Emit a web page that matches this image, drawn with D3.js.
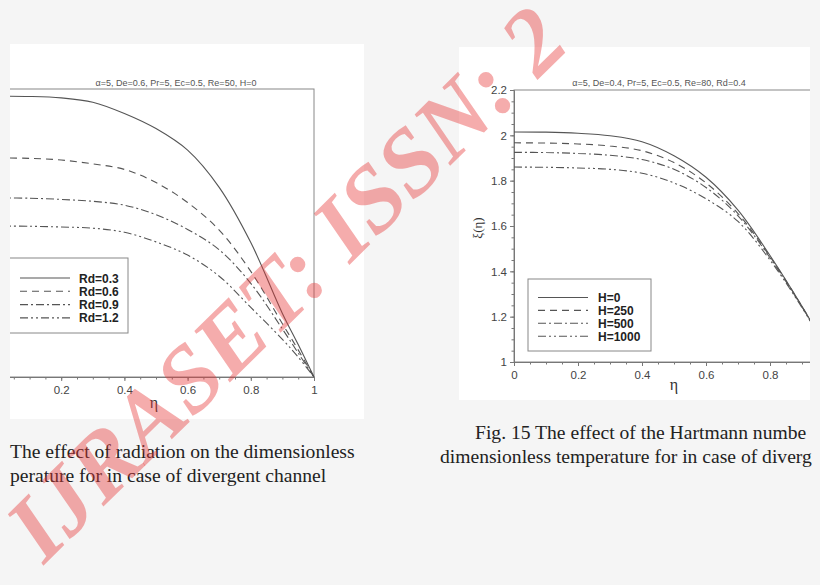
<!DOCTYPE html>
<html>
<head>
<meta charset="utf-8">
<script src="https://cdn.jsdelivr.net/npm/d3@7"></script>
<style>
  html, body { margin: 0; padding: 0; background: #f5f5f5; }
  svg { display: block; }
</style>
</head>
<body>
<svg id="fig" width="820" height="585"></svg>
<script>
const eta = [0, 0.1, 0.2, 0.3, 0.4, 0.5, 0.6, 0.7, 0.8, 0.9, 0.95, 1];

// left figure: effect of Rd (its y axis is outside the crop)
const rdLabels = ["Rd=0.3", "Rd=0.6", "Rd=0.9", "Rd=1.2"];
const rd03 = [2.170, 2.169, 2.163, 2.145, 2.098, 2.035, 1.945, 1.790, 1.560, 1.265, 1.135, 1.0];
const rd06 = [1.913, 1.911, 1.904, 1.888, 1.865, 1.810, 1.727, 1.612, 1.440, 1.222, 1.113, 1.0];
const rd09 = [1.746, 1.745, 1.740, 1.732, 1.716, 1.676, 1.615, 1.530, 1.390, 1.200, 1.100, 1.0];
const rd12 = [1.629, 1.628, 1.625, 1.620, 1.603, 1.563, 1.508, 1.420, 1.290, 1.157, 1.083, 1.0];

// right figure: effect of Hartmann number
const hLabels = ["H=0", "H=250", "H=500", "H=1000"];
const h0    = [2.015, 2.014, 2.009, 1.998, 1.972, 1.910, 1.815, 1.670, 1.470, 1.246, 1.125, 1.0];
const h250  = [1.967, 1.966, 1.962, 1.953, 1.932, 1.880, 1.790, 1.655, 1.465, 1.245, 1.124, 1.0];
const h500  = [1.925, 1.924, 1.920, 1.912, 1.893, 1.850, 1.770, 1.645, 1.460, 1.243, 1.123, 1.0];
const h1000 = [1.860, 1.859, 1.856, 1.850, 1.833, 1.790, 1.720, 1.620, 1.450, 1.240, 1.122, 1.0];

// tick labels that fall inside each crop
const xTicksL = [0.2, 0.4, 0.6, 0.8, 1];
const xTicksR = [0, 0.2, 0.4, 0.6, 0.8];
const yTicks = [1, 1.2, 1.4, 1.6, 1.8, 2, 2.2];

const dashes = [null, "7,5", "8,3,2,3", "8,3,2,3,2,3"];
const lineCol = "#555";

const svg = d3.select("#fig");
const defs = svg.append("defs");

// crops of the two columns
defs.append("clipPath").attr("id", "clipL")
  .append("rect").attr("x", 10).attr("y", 0).attr("width", 400).attr("height", 585);
defs.append("clipPath").attr("id", "clipR")
  .append("rect").attr("x", 0).attr("y", 0).attr("width", 810).attr("height", 585);

const fmt = d => Number.isInteger(d) ? d3.format("d")(d) : d3.format(".1f")(d);

function drawPanel(opt) {
  const root = svg.append("g");
  const g = root.append("g").attr("clip-path", `url(#${opt.clip})`);

  g.append("rect")
    .attr("x", opt.panel[0]).attr("y", opt.panel[1])
    .attr("width", opt.panel[2]).attr("height", opt.panel[3])
    .attr("fill", "#fff");

  const x = d3.scaleLinear().domain([0, 1]).range(opt.xr);
  const y = d3.scaleLinear().domain([1, 2.2]).range(opt.yr);

  // frame
  g.append("rect")
    .attr("x", x(0)).attr("y", y(2.2))
    .attr("width", x(1) - x(0)).attr("height", y(1) - y(2.2))
    .attr("fill", "none").attr("stroke", "#888").attr("stroke-width", 1);

  // x axis: minor + major ticks
  const minor = d3.range(0, 1.0001, 0.05);
  g.append("g")
    .attr("transform", `translate(0,${y(1)})`)
    .call(d3.axisBottom(x).tickValues(minor).tickSize(2.5).tickFormat(""))
    .call(a => a.select(".domain").remove())
    .selectAll("line").attr("stroke", "#777");
  const xa = g.append("g")
    .attr("transform", `translate(0,${y(1)})`)
    .call(d3.axisBottom(x).tickValues(opt.xTicks).tickSize(4).tickPadding(5).tickFormat(fmt));
  xa.select(".domain").attr("stroke", "#777");
  xa.selectAll("line").attr("stroke", "#777");
  xa.selectAll("text")
    .attr("font-family", "Arial, 'Liberation Sans', sans-serif")
    .attr("font-size", 11.5).attr("fill", "#444");

  if (opt.yAxis) {
    const yMinor = d3.range(1, 2.2001, 0.05);
    g.append("g")
      .attr("transform", `translate(${x(0)},0)`)
      .call(d3.axisLeft(y).tickValues(yMinor).tickSize(2.5).tickFormat(""))
      .call(a => a.select(".domain").remove())
      .selectAll("line").attr("stroke", "#777");
    const ya = g.append("g")
      .attr("transform", `translate(${x(0)},0)`)
      .call(d3.axisLeft(y).tickValues(yTicks).tickSize(4).tickPadding(3).tickFormat(fmt));
    ya.select(".domain").attr("stroke", "#777");
    ya.selectAll("line").attr("stroke", "#777");
    ya.selectAll("text")
      .attr("font-family", "Arial, 'Liberation Sans', sans-serif")
      .attr("font-size", 11.5).attr("fill", "#444");

    g.append("text")
      .attr("transform", `translate(${opt.yLabelPos[0]},${opt.yLabelPos[1]}) rotate(-90)`)
      .attr("text-anchor", "middle")
      .attr("font-family", "'Liberation Serif', 'Times New Roman', serif")
      .attr("font-size", 13).attr("fill", "#333")
      .text("ξ(η)");
  }

  // axis title
  g.append("text")
    .attr("x", opt.xLabelPos[0]).attr("y", opt.xLabelPos[1])
    .attr("text-anchor", "middle")
    .attr("font-family", "'Liberation Serif', 'Times New Roman', serif")
    .attr("font-size", 16).attr("fill", "#333")
    .text("η");

  // parameter line on top
  g.append("text")
    .attr("x", opt.titlePos[0]).attr("y", opt.titlePos[1])
    .attr("text-anchor", "middle")
    .attr("font-family", "Arial, 'Liberation Sans', sans-serif")
    .attr("font-size", 9).attr("fill", "#555")
    .text(opt.title);

  // curves
  const line = d3.line()
    .x((d, i) => x(eta[i]))
    .y(d => y(d))
    .curve(d3.curveCatmullRom.alpha(0.5));

  const plot = g.append("g");
  opt.series.forEach((s, i) => {
    plot.append("path")
      .attr("d", line(s))
      .attr("fill", "none")
      .attr("stroke", lineCol)
      .attr("stroke-width", 1.1)
      .attr("stroke-dasharray", dashes[i]);
  });

  // legend
  const L = opt.legend;
  g.append("rect")
    .attr("x", L.box[0]).attr("y", L.box[1])
    .attr("width", L.box[2]).attr("height", L.box[3])
    .attr("fill", "#fff").attr("stroke", "#888").attr("stroke-width", 1);
  opt.labels.forEach((lab, i) => {
    const yy = L.y0 + i * L.dy;
    g.append("line")
      .attr("x1", L.lx[0]).attr("x2", L.lx[1])
      .attr("y1", yy).attr("y2", yy)
      .attr("stroke", lineCol).attr("stroke-width", 1.1)
      .attr("stroke-dasharray", dashes[i]);
    g.append("text")
      .attr("x", L.tx).attr("y", yy + 4.5)
      .attr("font-family", "Arial, 'Liberation Sans', sans-serif")
      .attr("font-weight", "bold")
      .attr("font-size", 12).attr("fill", "#222")
      .text(lab);
  });

  // caption under the figure (as much as the crop shows)
  opt.caption.forEach(c => {
    root.append("text")
      .attr("x", c[0]).attr("y", c[1])
      .attr("font-family", "'Liberation Serif', 'Times New Roman', serif")
      .attr("font-size", 19.6).attr("fill", "#222")
      .text(c[2]);
  });
}

drawPanel({
  clip: "clipL",
  panel: [10, 44, 354, 375],
  xr: [-2, 314], yr: [377, 89],
  xTicks: xTicksL,
  yAxis: false,
  xLabelPos: [154, 408],
  titlePos: [176, 86],
  title: "α=5, De=0.6, Pr=5, Ec=0.5, Re=50, H=0",
  series: [rd03, rd06, rd09, rd12],
  labels: rdLabels,
  legend: { box: [4, 258, 124, 75], y0: 278, dy: 13.3, lx: [20, 70], tx: 79 },
  caption: [
    [10, 458, "The effect of radiation on the dimensionless"],
    [10, 482, "perature for in case of divergent channel"]
  ]
});

drawPanel({
  clip: "clipR",
  panel: [459, 47, 370, 353],
  xr: [514, 834], yr: [362, 90],
  xTicks: xTicksR,
  yAxis: true,
  yLabelPos: [482, 228],
  xLabelPos: [674, 390],
  titlePos: [659, 86],
  title: "α=5, De=0.4, Pr=5, Ec=0.5, Re=80, Rd=0.4",
  series: [h0, h250, h500, h1000],
  labels: hLabels,
  legend: { box: [528, 279, 123, 72], y0: 297.5, dy: 12.9, lx: [538, 588], tx: 598 },
  caption: [
    [475, 439, "Fig. 15 The effect of the Hartmann numbe"],
    [440, 463, "dimensionless temperature for in case of diverg"]
  ]
});

// watermark across the page
svg.append("text")
  .attr("transform", "translate(44,565) rotate(-44.5)")
  .attr("font-family", "'Liberation Serif', 'Times New Roman', serif")
  .attr("font-style", "italic")
  .attr("font-weight", "bold")
  .attr("font-size", 94)
  .attr("fill", "#e83a3a")
  .attr("fill-opacity", 0.42)
  .text("IJRASET: ISSN: 2");
</script>
</body>
</html>
